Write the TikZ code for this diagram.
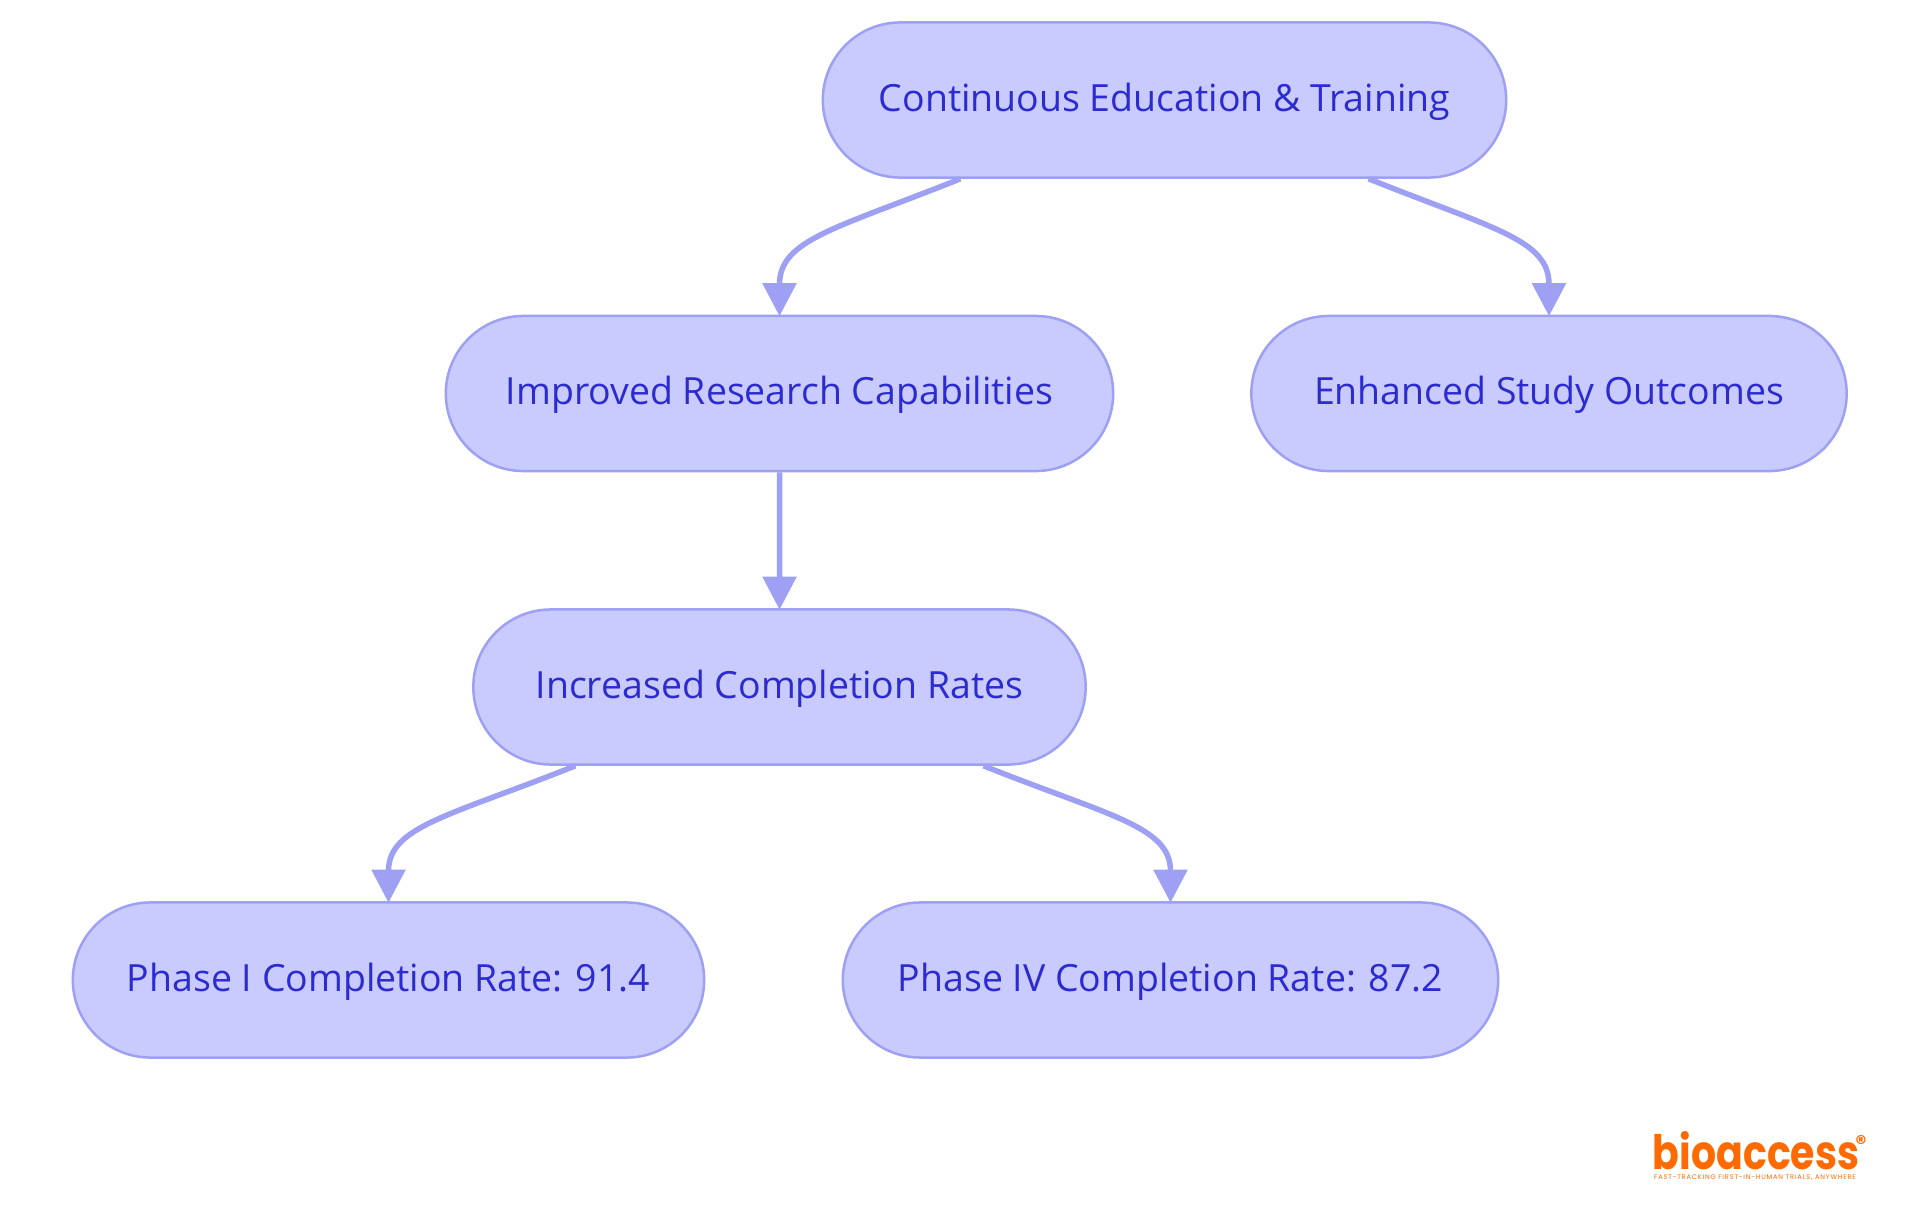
\documentclass[tikz,border=0pt]{standalone}
\usepackage{fontspec}
\setmainfont{Open Sans}
\newfontfamily\logofont{Poppins}
\newfontfamily\tagfont[LetterSpace=12]{Poppins}
\usetikzlibrary{shapes.misc,arrows.meta,positioning}
\definecolor{nodefill}{HTML}{C9CBFF}
\definecolor{nodeline}{HTML}{9DA0F3}
\definecolor{nodetext}{HTML}{2B2BD0}
\definecolor{logoorange}{HTML}{FF6A00}
\tikzset{main node/.style={rounded rectangle,fill=nodefill,draw=nodeline,line width=0.025cm,text=nodetext,minimum height=1.55cm,inner sep=0pt,text height=0.285cm,text depth=0.065cm,font=\fontsize{10.65pt}{12pt}\selectfont},
         link/.style={draw=nodeline,line width=0.055cm,shorten >=-0.015cm,-{Triangle[length=0.33cm,width=0.33cm]}},
         logo text/.style={text=logoorange,inner sep=0pt}
}
\begin{document}
\begin{tikzpicture}[x=0.01cm,y=-0.01cm]
    \useasboundingbox (0,0) rectangle (1920,1215);

    \node [main node,minimum width=6.83cm] (education) at (1164.5,100) {Continuous Education \& Training};
    \node [main node,minimum width=6.67cm] (research) at (779.5,393.5) {Improved Research Capabilities};
    \node [main node,minimum width=5.95cm] (outcomes) at (1549,393.5) {Enhanced Study Outcomes};
    \node [main node,minimum width=6.12cm] (rates) at (779.5,687) {Increased Completion Rates};
    \node [main node,minimum width=6.31cm] (phaseone) at (388.5,980) {Phase I Completion Rate: 91.4};
    \node [main node,minimum width=6.55cm] (phasefour) at (1170.5,980) {Phase IV Completion Rate: 87.2};

    \draw [link] ([xshift=-2.04cm]education.south) .. controls +(-125,50) and +(0,-75) .. (research.north);
    \draw [link] ([xshift=2.04cm]education.south) .. controls +(125,50) and +(0,-75) .. (outcomes.north);
    \draw [link] (research) -- (rates);
    \draw [link] ([xshift=-2.04cm]rates.south) .. controls +(-125,50) and +(0,-75) .. (phaseone.north);
    \draw [link] ([xshift=2.04cm]rates.south) .. controls +(125,50) and +(0,-75) .. (phasefour.north);

    % logo
    \node [logo text,anchor=base,xscale=0.83,transform shape,font=\logofont\bfseries\fontsize{13.5pt}{14pt}\selectfont] (logoname) at (1756,1169) {bioaccess};
    \node [logo text,font=\logofont\bfseries\fontsize{6pt}{6pt}\selectfont] (logomark) at (1861,1143) {®};
    \node [logo text,font=\tagfont\fontsize{1.9pt}{3pt}\selectfont] (logotag) at (1755,1178) {FAST-TRACKING FIRST-IN-HUMAN TRIALS, ANYWHERE};
\end{tikzpicture}
\end{document}
